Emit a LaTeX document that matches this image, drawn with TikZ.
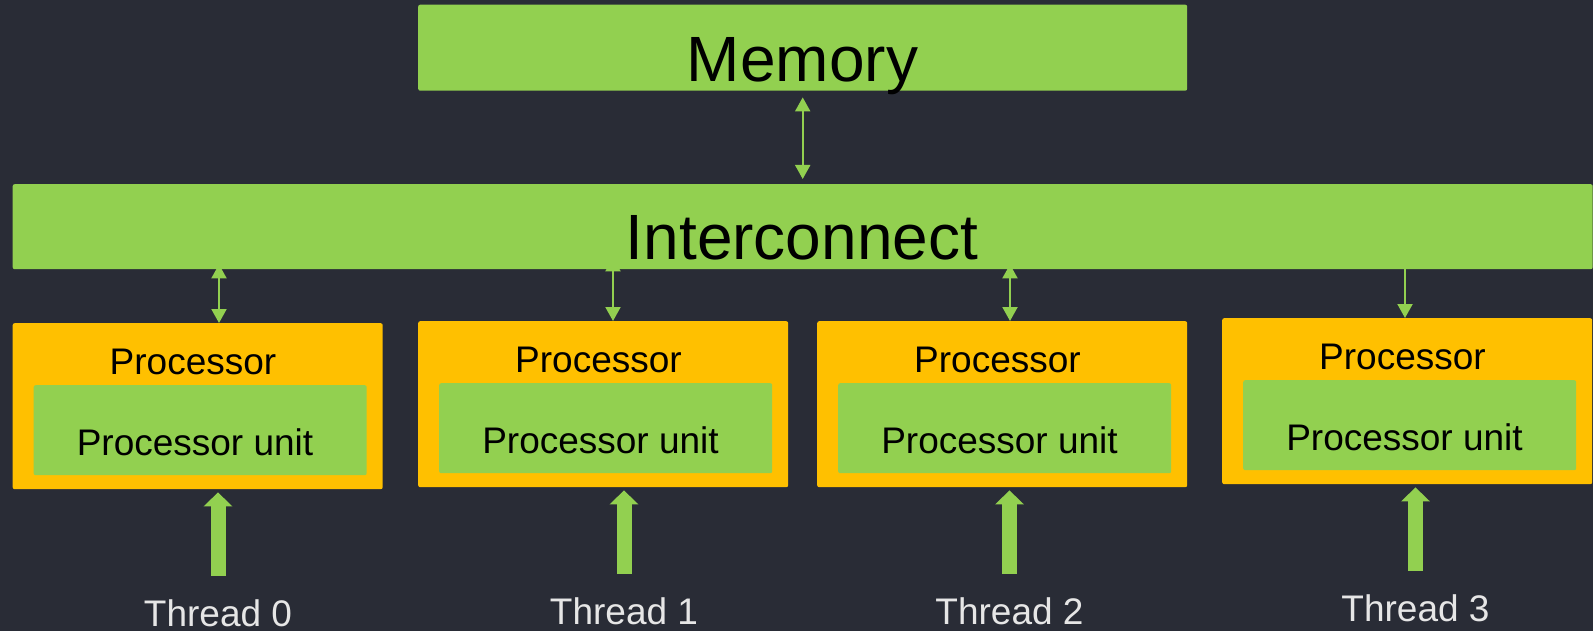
\documentclass[tikz,border=0pt]{standalone}
\usepackage{fontspec}
\setmainfont{Liberation Sans}
\usetikzlibrary{arrows.meta}

\definecolor{bg}{HTML}{292C36}
\definecolor{leaf}{HTML}{92D050}
\definecolor{gold}{HTML}{FFC000}
\definecolor{pale}{HTML}{E6E6E6}

\begin{document}
\begin{tikzpicture}[x=1pt,y=-1pt,
        box/.style={rectangle,rounded corners=2pt,inner sep=0pt,anchor=north west},
        big/.style={font=\fontsize{64}{70}\selectfont,inner sep=0pt,anchor=base},
        small/.style={font=\fontsize{37}{42}\selectfont,inner sep=0pt,anchor=base},
        link/.style={leaf,line width=2pt,-{Triangle[width=15pt,length=14pt]}},
        linkboth/.style={link,{Triangle[width=15pt,length=14pt]}-{Triangle[width=15pt,length=14pt]},shorten <=-5pt},
        linkhid/.style={linkboth,shorten <=-12pt},
        linkdown/.style={link},
        thread/.style={leaf,line width=15pt,-{Triangle[width=28pt,length=14pt]},shorten <=23pt,shorten >=3pt}
    ]
    \fill[bg] (0,0) rectangle (1593,631);
    \useasboundingbox (0,0) rectangle (1593,631);

    % shared memory and the bus
    \node[box,fill=leaf,minimum width=769pt,minimum height=86pt] (mem) at (418,4.5) {};
    \node[big] (memlabel) at (802.5,82) {Memory};
    \node[box,fill=leaf,minimum width=1580pt,minimum height=85pt] (ic) at (12.5,184) {};
    \node[big] (iclabel) at (802,259) {Interconnect};
    \draw[link,{Triangle[width=15pt,length=14pt]}-{Triangle[width=15pt,length=14pt]},
        shorten <=6.5pt,shorten >=5pt] (mem.south) -- (ic.north);

    % one processor per thread
    \foreach \i/\x/\y/\ax/\kind/\tx in {0/12.5/323/219/linkboth/218,
                                         1/418/321/613/linkhid/624,
                                         2/817/321/1010/linkboth/1009.5,
                                         3/1222/318/1405/linkdown/1415.5}{
        \node[box,fill=gold,minimum width=370pt,minimum height=166pt] (p\i) at (\x,\y) {};
        \node[box,fill=leaf,minimum width=333pt,minimum height=90pt] (u\i) at ({\x+21},{\y+62}) {};
        \node[small] (pl\i) at ({\x+180.5},{\y+51}) {Processor};
        \node[small] (ul\i) at ({\x+182.5},{\y+132}) {Processor unit};
        \node[small,text=pale] (t\i) at (\tx,{\y+303}) {Thread \i};
        \coordinate (a\i) at (\ax,0);
        \draw[\kind] (ic.south -| a\i) -- (p\i.north -| a\i);
        \draw[thread] (t\i.north) -- (t\i.north |- p\i.south);
    }
\end{tikzpicture}
\end{document}
